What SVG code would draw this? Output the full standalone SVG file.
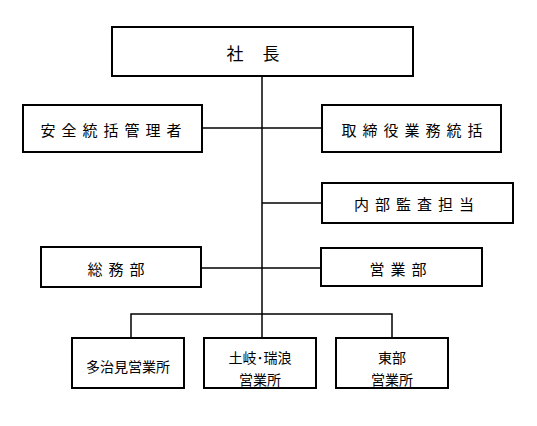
<svg xmlns="http://www.w3.org/2000/svg" width="537" height="426" viewBox="0 0 537 426">
<style>
.box{fill:#fff;stroke:#000;stroke-width:2}
.ln{stroke:#000;stroke-width:1.5;fill:none}
text{font-family:"Noto Sans CJK JP","Noto Sans",sans-serif;fill:#000;text-anchor:middle;dominant-baseline:central}
.sp{font-size:15px;letter-spacing:6px}
.sm{font-size:14px}
</style>
<rect width="537" height="426" fill="#fff"/>
<g id="connectors">
<line class="ln" x1="262" y1="76" x2="262" y2="314"/>
<line class="ln" x1="202" y1="128" x2="322" y2="128"/>
<line class="ln" x1="262" y1="203" x2="322" y2="203"/>
<line class="ln" x1="201" y1="268" x2="321" y2="268"/>
<polyline class="ln" points="131,338 131,314 392,314 392,338"/>
<line class="ln" x1="262" y1="314" x2="262" y2="338"/>
</g>
<g id="president"><rect class="box" x="112" y="27" width="301" height="49"/><text x="253" y="52" style="font-size:17px" xml:space="preserve"><tspan x="237">社</tspan> <tspan x="271">長</tspan></text></g>
<g id="safety"><rect class="box" x="23" y="105" width="179" height="47"/><text class="sp" x="114" y="129">安全統括管理者</text></g>
<g id="director"><rect class="box" x="322" y="105" width="179" height="47"/><text class="sp" x="415" y="129">取締役業務統括</text></g>
<g id="audit"><rect class="box" x="322" y="183" width="191" height="40"/><text class="sp" x="417" y="203">内部監査担当</text></g>
<g id="general"><rect class="box" x="41" y="247" width="160" height="40"/><text class="sp" x="119" y="268">総務部</text></g>
<g id="sales"><rect class="box" x="321" y="248" width="161" height="38"/><text class="sp" x="401" y="268">営業部</text></g>
<g id="tajimi"><rect class="box" x="72" y="338" width="112" height="50"/><text class="sm" x="128" y="366">多治見営業所</text></g>
<g id="toki"><rect class="box" x="204" y="338" width="112" height="50"/><text class="sm" x="260" y="357">土岐･瑞浪</text><text class="sm" x="260" y="379">営業所</text></g>
<g id="tobu"><rect class="box" x="336" y="338" width="112" height="50"/><text class="sm" x="392" y="357">東部</text><text class="sm" x="392" y="379">営業所</text></g>
</svg>
